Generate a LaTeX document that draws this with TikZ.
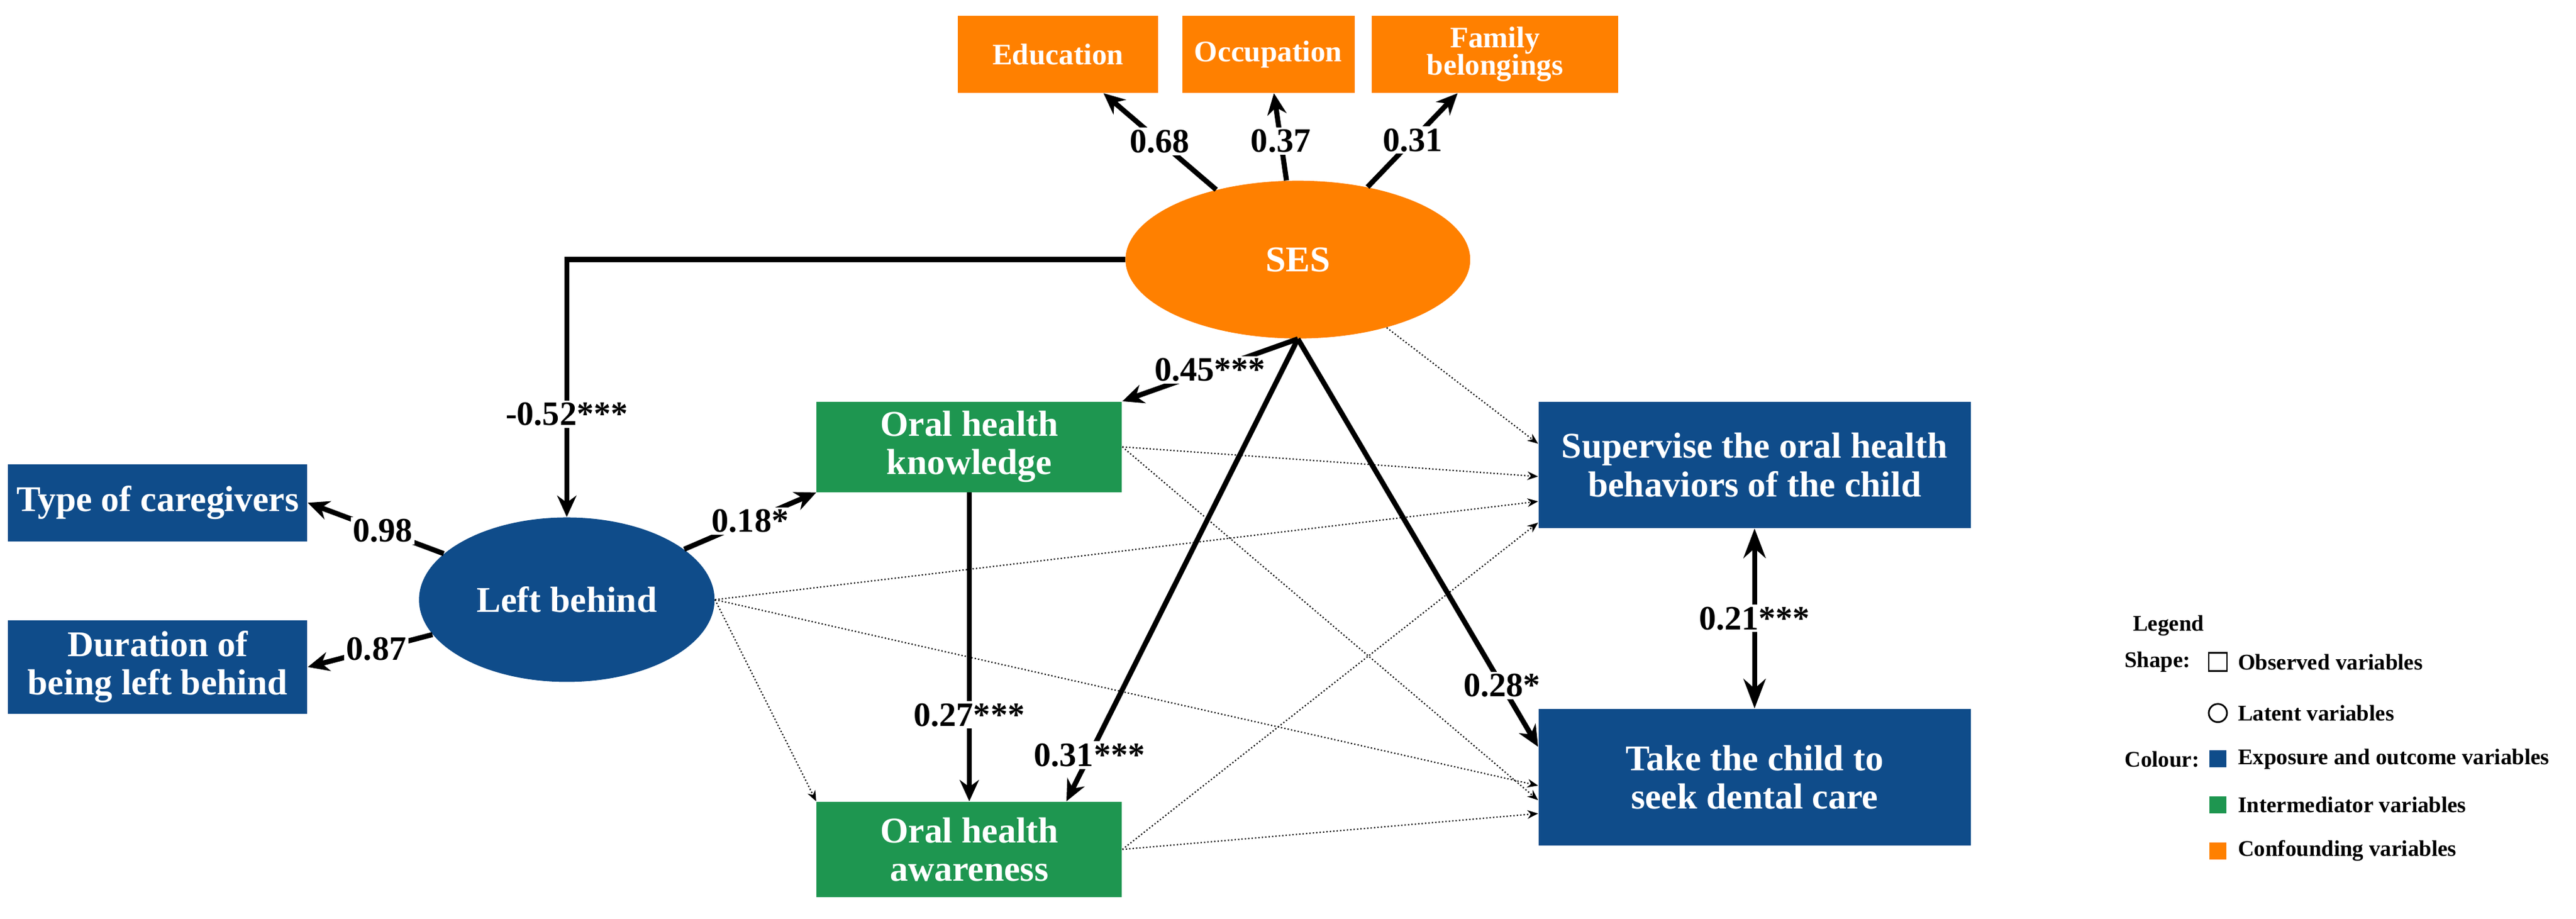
\documentclass[tikz,border=0pt]{standalone}
\usepackage{fontspec}
\setmainfont{Liberation Serif}
\usetikzlibrary{arrows.meta,shapes.geometric}
\definecolor{expblue}{HTML}{0F4C8A}
\definecolor{medgreen}{HTML}{1E9650}
\definecolor{confor}{HTML}{FF8000}
\begin{document}
\begin{tikzpicture}[x=0.02707cm,y=-0.02707cm,>=Stealth,
	obs/.style={rectangle, text=white, font=\bfseries\fontsize{17}{20}\selectfont, align=center, inner sep=2pt},
	top/.style={obs, font=\bfseries\fontsize{14}{16}\selectfont},
	lat/.style={ellipse, text=white, font=\bfseries\fontsize{17}{20}\selectfont, inner sep=0pt},
	path/.style={line width=2.4pt, -{Stealth[length=10pt,width=9pt]}},
	weak/.style={densely dotted, line width=0.6pt, -{Stealth[length=5pt,width=4pt]}},
	coef/.style={fill=white, font=\bfseries\fontsize{16}{18}\selectfont, inner sep=1pt},
	leg/.style={font=\bfseries\fontsize{10.5}{12}\selectfont, anchor=west, inner sep=0pt}]
		\useasboundingbox (0,0) rectangle (1568,559);
		
		% observed and latent variables
		\node[top, fill=confor, minimum width=3.3cm, minimum height=1.27cm] (edu) at (644,33) {Education};
		\node[top, fill=confor, minimum width=2.84cm, minimum height=1.27cm] (occ) at (772,33) {Occupation};
		\node[top, fill=confor, minimum width=4.06cm, minimum height=1.27cm] (fam) at (910,33) {Family\\[-3pt]belongings};
		\node[lat, fill=confor, minimum width=5.68cm, minimum height=2.6cm] (ses) at (790,158) {SES};
		\node[obs, fill=expblue, minimum width=4.93cm, minimum height=1.27cm] (care) at (96,306) {Type of caregivers};
		\node[obs, fill=expblue, minimum width=4.93cm, minimum height=1.54cm] (dur) at (96,406) {Duration of\\[-2pt]being left behind};
		\node[lat, fill=expblue, minimum width=4.87cm, minimum height=2.71cm] (lb) at (345,365) {Left behind};
		\node[obs, fill=medgreen, minimum width=5.03cm, minimum height=1.49cm] (know) at (590,272) {Oral health\\[-2pt]knowledge};
		\node[obs, fill=medgreen, minimum width=5.03cm, minimum height=1.57cm] (aware) at (590,517) {Oral health\\[-2pt]awareness};
		\node[obs, fill=expblue, minimum width=7.12cm, minimum height=2.08cm] (sup) at (1068,283) {Supervise the oral health\\[-2pt]behaviors of the child};
		\node[obs, fill=expblue, minimum width=7.12cm, minimum height=2.25cm] (take) at (1068,473) {Take the child to\\[-2pt]seek dental care};
		
		% weak paths
		\draw[weak] (ses) -- ([yshift=0.35cm]sup.west);
		\draw[weak] (know.east) -- ([yshift=-0.19cm]sup.west);
		\draw[weak] (know.east) -- ([yshift=-0.38cm]take.west);
		\draw[weak] (lb.east) -- ([yshift=-0.6cm]sup.west);
		\draw[weak] (lb.east) -- ([yshift=-0.14cm]take.west);
		\draw[weak] (lb.east) -- (aware.north west);
		\draw[weak] (aware.east) -- ([yshift=-0.95cm]sup.west);
		\draw[weak] (aware.east) -- ([yshift=-0.6cm]take.west);
		
		% significant paths
		\draw[path] (ses) -- (edu) node[coef, pos=0.5] {0.68};
		\draw[path] (ses) -- (occ) node[coef, pos=0.45] {0.37};
		\draw[path] (ses) -- (fam) node[coef, pos=0.5] {0.31};
		\draw[path] (ses.west) -| (lb.north) node[coef, pos=0.8] {-0.52***};
		\draw[path] (lb) -- (care.east) node[coef, pos=0.45] {0.98};
		\draw[path] (lb) -- (dur.east) node[coef, pos=0.45] {0.87};
		\draw[path] (lb) -- (know.south west) node[coef, pos=0.5] {0.18*};
		\draw[path] (know) -- (aware) node[coef, pos=0.72] {0.27***};
		\draw[path] (ses.south) -- (know.north east) node[coef, pos=0.5] {0.45***};
		\draw[path] (ses.south) -- ([xshift=1.6cm]aware.north) node[coef, pos=0.9] {0.31***};
		\draw[path] (ses.south) -- ([yshift=0.5cm]take.west) node[coef, pos=0.85] {0.28*};
		\draw[path, <->] (sup) -- (take) node[coef, pos=0.5] {0.21***};
		
		% legend
		\node[leg, anchor=center] (legt) at (1320,381) {Legend};
		\node[leg] (shp) at (1293,403) {Shape:};
		\node[draw, line width=0.8pt, minimum size=0.3cm, inner sep=0pt] (lsq) at (1350,403) {};
		\node[leg] at (1362,403) {Observed variables};
		\node[draw, circle, line width=0.8pt, minimum size=0.3cm, inner sep=0pt] (lci) at (1350,434) {};
		\node[leg] at (1362,434) {Latent variables};
		\node[leg] (col) at (1293,462) {Colour:};
		\node[fill=expblue, minimum size=0.28cm, inner sep=0pt] (lbl) at (1350,462) {};
		\node[leg] at (1362,462) {Exposure and outcome variables};
		\node[fill=medgreen, minimum size=0.28cm, inner sep=0pt] (lgr) at (1350,490) {};
		\node[leg] at (1362,490) {Intermediator variables};
		\node[fill=confor, minimum size=0.28cm, inner sep=0pt] (lor) at (1350,518) {};
		\node[leg] at (1362,518) {Confounding variables};
\end{tikzpicture}
\end{document}
